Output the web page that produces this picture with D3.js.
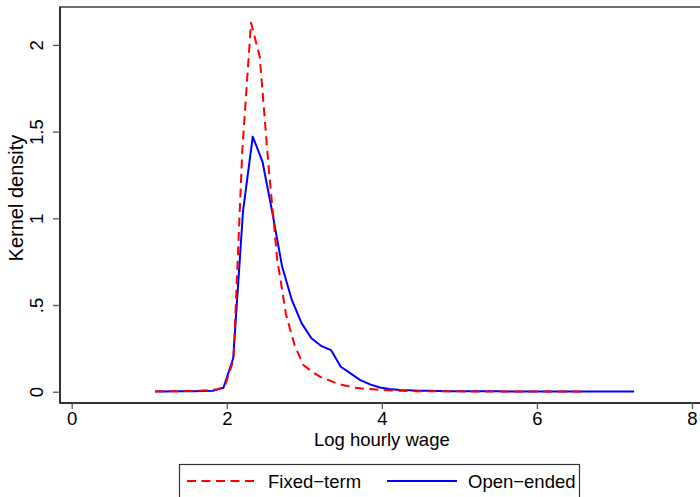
<!DOCTYPE html>
<html>
<head>
<meta charset="utf-8">
<script src="https://cdn.jsdelivr.net/npm/d3@7"></script>
<style>
  html, body { margin: 0; padding: 0; background: #fff; }
  svg { display: block; }
  text { font-family: "Liberation Sans", Arial, Helvetica, sans-serif; fill: #000; }
</style>
</head>
<body>
<svg id="chart" width="700" height="497"></svg>
<script>
// Kernel density estimates of log hourly wage, by contract type (50-point grids)
const xFixed = [1.074, 1.187, 1.299, 1.412, 1.524, 1.637, 1.750, 1.862, 1.975, 2.087,
  2.200, 2.313, 2.425, 2.538, 2.650, 2.763, 2.876, 2.988, 3.101, 3.213,
  3.326, 3.439, 3.551, 3.664, 3.776, 3.889, 4.002, 4.114, 4.227, 4.339,
  4.452, 4.565, 4.677, 4.790, 4.902, 5.015, 5.128, 5.240, 5.353, 5.465,
  5.578, 5.691, 5.803, 5.916, 6.028, 6.141, 6.254, 6.366, 6.479, 6.591];
const yFixed = [0.002, 0.002, 0.003, 0.003, 0.004, 0.006, 0.009, 0.012, 0.030, 0.185,
  1.390, 2.128, 1.932, 1.305, 0.765, 0.448, 0.266, 0.154, 0.115, 0.084,
  0.065, 0.044, 0.033, 0.023, 0.017, 0.014, 0.010, 0.007, 0.005, 0.004,
  0.003, 0.003, 0.002, 0.002, 0.002, 0.002, 0.001, 0.001, 0.001, 0.001,
  0.001, 0.001, 0.001, 0.001, 0.001, 0.001, 0.001, 0.001, 0.001, 0.001];

const xOpen = [1.074, 1.200, 1.326, 1.452, 1.578, 1.705, 1.831, 1.957, 2.083, 2.209,
  2.335, 2.461, 2.587, 2.713, 2.839, 2.966, 3.092, 3.218, 3.344, 3.470,
  3.596, 3.722, 3.848, 3.974, 4.100, 4.227, 4.353, 4.479, 4.605, 4.731,
  4.857, 4.983, 5.109, 5.235, 5.361, 5.488, 5.614, 5.740, 5.866, 5.992,
  6.118, 6.244, 6.370, 6.496, 6.622, 6.749, 6.875, 7.001, 7.127, 7.253];
const yOpen = [0.001, 0.001, 0.002, 0.002, 0.003, 0.004, 0.006, 0.023, 0.193, 1.038,
  1.471, 1.326, 1.035, 0.723, 0.529, 0.394, 0.308, 0.264, 0.240, 0.144,
  0.106, 0.067, 0.042, 0.024, 0.016, 0.010, 0.008, 0.006, 0.005, 0.004,
  0.003, 0.003, 0.002, 0.002, 0.002, 0.002, 0.001, 0.001, 0.001, 0.001,
  0.001, 0.001, 0.001, 0.001, 0.001, 0.001, 0.001, 0.001, 0.001, 0.001];

const xTicks = [0, 2, 4, 6, 8];
const yTicks = [0, 0.5, 1, 1.5, 2];
const yTickLabels = ["0", ".5", "1", "1.5", "2"];

const seriesNames = ["Fixed\u2212term", "Open\u2212ended"];
const xTitle = "Log hourly wage";
const yTitle = "Kernel density";

const svg = d3.select("#chart");
const plot = { left: 60, right: 704, top: 7, bottom: 403 };

const x = d3.scaleLinear().domain([0, 8]).range([71.7, 692]);
const y = d3.scaleLinear().domain([0, 2]).range([391.7, 44.9]);

// plot region outline
svg.append("rect")
  .attr("x", plot.left).attr("y", plot.top)
  .attr("width", plot.right - plot.left).attr("height", plot.bottom - plot.top)
  .attr("fill", "none").attr("stroke", "#6e6e6e").attr("stroke-width", 2);

// axes
const fontSize = 18.5;
const xAxis = d3.axisBottom(x).tickValues(xTicks).tickSize(6).tickPadding(3).tickFormat(d3.format("d"));
const gx = svg.append("g").attr("transform", `translate(0,${plot.bottom})`).call(xAxis);
gx.select(".domain").attr("d", `M${plot.left},0H${plot.right}`).attr("stroke", "#222").attr("stroke-width", 1.6);
gx.selectAll(".tick line").attr("stroke", "#555").attr("stroke-width", 1.3);
gx.selectAll(".tick text").attr("font-size", fontSize).attr("font-family", "Liberation Sans, Arial, sans-serif").attr("fill", "#000");

const yAxis = d3.axisLeft(y).tickValues(yTicks).tickSize(7)
  .tickFormat((d, i) => yTickLabels[i]);
const gy = svg.append("g").attr("transform", `translate(${plot.left},0)`).call(yAxis);
gy.select(".domain").attr("d", `M0,${plot.top}V${plot.bottom}`).attr("stroke", "#222").attr("stroke-width", 1.6);
gy.selectAll(".tick line").attr("stroke", "#555").attr("stroke-width", 1.3);
gy.selectAll(".tick text")
  .attr("font-size", fontSize).attr("font-family", "Liberation Sans, Arial, sans-serif").attr("fill", "#000")
  .attr("x", null).attr("dy", null)
  .attr("text-anchor", "middle")
  .attr("transform", "translate(-17,0) rotate(-90)")
  .attr("y", 0);

// axis titles
svg.append("text")
  .attr("x", x(4)).attr("y", 446)
  .attr("text-anchor", "middle").attr("font-size", fontSize)
  .text(xTitle);
svg.append("text")
  .attr("transform", `translate(23,198) rotate(-90)`)
  .attr("text-anchor", "middle").attr("font-size", 20)
  .text(yTitle);

// density curves
const line = d3.line().x(d => x(d[0])).y(d => y(d[1]));
const fixedPts = xFixed.map((v, i) => [v, yFixed[i]]);
const openPts = xOpen.map((v, i) => [v, yOpen[i]]);

svg.append("path").datum(openPts)
  .attr("d", line).attr("fill", "none")
  .attr("stroke", "#0000ff").attr("stroke-width", 2).attr("stroke-linejoin", "round");
svg.append("path").datum(fixedPts)
  .attr("d", line).attr("fill", "none")
  .attr("stroke", "#ff0000").attr("stroke-width", 2)
  .attr("stroke-dasharray", "9,5.5").attr("stroke-linejoin", "round");

// legend
const lg = svg.append("g");
lg.append("rect").attr("x", 179.5).attr("y", 464.5).attr("width", 400).attr("height", 45)
  .attr("fill", "#fff").attr("stroke", "#333").attr("stroke-width", 1.2);
const legendItems = [
  { name: seriesNames[0], color: "#ff0000", dash: "9,5.5", x0: 187, x1: 256, tx: 268 },
  { name: seriesNames[1], color: "#0000ff", dash: null, x0: 387, x1: 457, tx: 468 }
];
legendItems.forEach(it => {
  lg.append("line").attr("x1", it.x0).attr("x2", it.x1).attr("y1", 481).attr("y2", 481)
    .attr("stroke", it.color).attr("stroke-width", 2)
    .attr("stroke-dasharray", it.dash);
  lg.append("text").attr("x", it.tx).attr("y", 488).attr("font-size", fontSize).text(it.name);
});
</script>
</body>
</html>
